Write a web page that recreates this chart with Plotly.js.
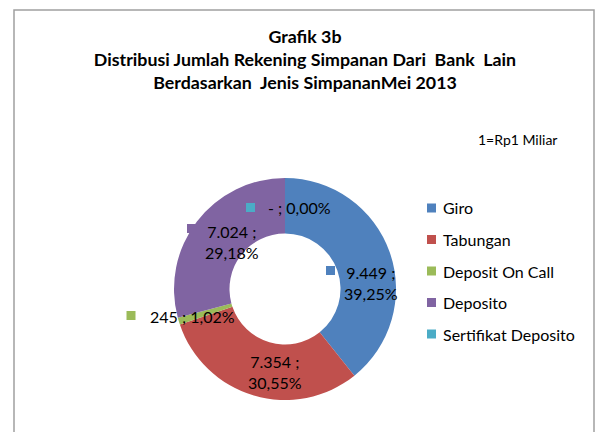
<!DOCTYPE html>
<html>
<head>
<meta charset="utf-8">
<script src="https://cdn.plot.ly/plotly-3.0.1.min.js"></script>
<style>html,body{margin:0;padding:0;background:#fff;}#chart{width:595px;height:432px;}</style>
</head>
<body>
<div id="chart"></div>
<script>
// ---- data ----
var categories = ["Giro", "Tabungan", "Deposit On Call", "Deposito", "Sertifikat Deposito"];
var values = [9449, 7354, 245, 7024, 0];
var colors = ["#4F81BD", "#C0504D", "#9BBB59", "#8064A2", "#4BACC6"];
var titleLines = ["Grafik 3b", "Distribusi Jumlah Rekening Simpanan Dari  Bank  Lain", "Berdasarkan  Jenis SimpananMei 2013"];
var unitNote = "1=Rp1 Miliar";

// ---- layout helpers (pixel positions of data labels, not data) ----
var FONT = "Lato, 'Open Sans', sans-serif";
var W = 595, H = 432;
function px(x){ return x / W; }
function py(y){ return 1 - y / H; }
var labelLayout = [
  {x: 371, y: 282.5, anchor: "center", mx: 326, my: 270.5, two: true},
  {x: 274.5, y: 372, anchor: "center", mx: 229, my: 361.5, two: true},
  {x: 149, y: 316, anchor: "left", mx: 126.5, my: 315.5, two: false},
  {x: 231.5, y: 242, anchor: "center", mx: 187, my: 228.5, two: true},
  {x: 267, y: 208, anchor: "left", mx: 246, my: 207.5, two: false}
];

var total = values.reduce(function(a,b){return a+b;}, 0);
function fmtVal(v){
  if (v === 0) return "-";
  return String(Math.round(v)).replace(/\B(?=(\d{3})+(?!\d))/g, ".");
}
function fmtPct(v){
  return (v / total * 100).toFixed(2).replace(".", ",") + "%";
}

var trace = {
  type: "pie",
  labels: categories,
  values: values,
  textinfo: "none",
  hole: 0.5,
  sort: false,
  direction: "clockwise",
  rotation: 0,
  marker: {colors: colors, line: {width: 0}},
  domain: {x: [px(174), px(396)], y: [py(400), py(178)]},
  showlegend: false,
  hoverinfo: "label+value+percent"
};

var annotations = [];
var shapes = [];

// chart border
shapes.push({type:"rect", xref:"paper", yref:"paper", x0: px(14), x1: px(594), y0: py(440), y1: py(10),
  line:{color:"#A0A0A0", width:1.5}, fillcolor:"rgba(0,0,0,0)"});

// data labels with legend keys
values.forEach(function(v, i){
  var L = labelLayout[i];
  var txt = L.two ? (fmtVal(v) + " ;<br>" + fmtPct(v)) : (fmtVal(v) + " ; " + fmtPct(v));
  annotations.push({xref:"paper", yref:"paper", x: px(L.x), y: py(L.y), xanchor: L.anchor, yanchor:"middle",
    align:"center", text: txt, showarrow:false, borderpad:0,
    font:{family:FONT, size:16, color:"#000"}});
  shapes.push({type:"rect", xref:"paper", yref:"paper", x0: px(L.mx), x1: px(L.mx+9),
    y0: py(L.my+4.5), y1: py(L.my-4.5), line:{width:0}, fillcolor: colors[i]});
});

// unit note
annotations.push({xref:"paper", yref:"paper", x: px(477), y: py(139), xanchor:"left", yanchor:"middle",
  text: unitNote, showarrow:false, borderpad:0, font:{family:FONT, size:14, color:"#000"}});

// legend
categories.forEach(function(c, i){
  var yc = 208 + i * 31.5;
  shapes.push({type:"rect", xref:"paper", yref:"paper", x0: px(427), x1: px(436), y0: py(yc+4.5), y1: py(yc-4.5),
    line:{width:0}, fillcolor: colors[i]});
  annotations.push({xref:"paper", yref:"paper", x: px(442), y: py(yc), xanchor:"left", yanchor:"middle",
    text: c, showarrow:false, borderpad:0, font:{family:FONT, size:16, color:"#000"}});
});

var layout = {
  width: W, height: H,
  margin: {l:0, r:0, t:0, b:0},
  paper_bgcolor: "#fff",
  separators: ",.",
  title: {
    text: titleLines.map(function(t){ return "<b>" + t + "</b>"; }).join("<br>"),
    x: px(305), xanchor: "center", xref: "container",
    y: py(42.5), yanchor: "top", yref: "container",
    font: {family: FONT, size: 17.8, color: "#000"}
  },
  annotations: annotations,
  shapes: shapes
};

Plotly.newPlot("chart", [trace], layout, {displayModeBar: false, staticPlot: true});
</script>
</body>
</html>
